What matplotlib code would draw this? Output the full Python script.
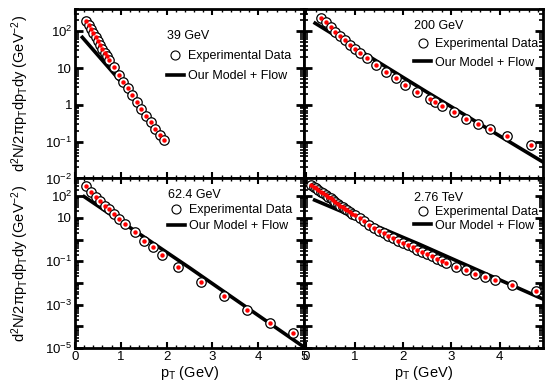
import matplotlib
matplotlib.use('Agg')
import matplotlib.pyplot as plt
import numpy as np
from matplotlib.lines import Line2D
from matplotlib.ticker import LogLocator, MultipleLocator, NullFormatter

plt.rcParams['font.family'] = ['Liberation Sans', 'DejaVu Sans']
plt.rcParams['mathtext.fontset'] = 'custom'
plt.rcParams['mathtext.rm'] = 'Liberation Sans'
plt.rcParams['mathtext.it'] = 'Liberation Sans'
plt.rcParams['mathtext.bf'] = 'Liberation Sans:bold'
plt.rcParams['mathtext.default'] = 'regular'
plt.rcParams['font.size'] = 9

# 39 GeV
pt_39 = [0.25, 0.30, 0.35, 0.40, 0.45, 0.50, 0.55, 0.60, 0.65, 0.70, 0.75,
         0.85, 0.95, 1.05, 1.15, 1.25, 1.35, 1.45, 1.55, 1.65, 1.75, 1.85, 1.95]
data_39 = [190, 148, 115, 89, 69, 54, 42, 33, 26, 21, 16.6,
           10.7, 6.6, 4.2, 2.9, 1.86, 1.2, 0.78, 0.50, 0.35, 0.22, 0.155, 0.112]
model_pt_39 = [0.16, 1.0, 1.97]
model_39 = [68, 4.3, 0.11]

# 200 GeV
pt_200 = [0.3, 0.4, 0.5, 0.6, 0.7, 0.8, 0.9, 1.0, 1.1, 1.25, 1.45, 1.65, 1.85,
          2.05, 2.3, 2.55, 2.67, 2.8, 3.05, 3.3, 3.55, 3.8, 4.15, 4.65]
data_200 = [235, 172, 126, 96, 74, 57, 43, 32, 26, 18.6, 12.3, 7.9, 5.3,
            3.5, 2.3, 1.45, 1.18, 0.95, 0.63, 0.42, 0.30, 0.215, 0.14, 0.079]
model_pt_200 = [0.18, 2.5, 4.9]
model_200 = [165, 2.2, 0.028]

# 62.4 GeV
pt_62 = [0.25, 0.35, 0.45, 0.55, 0.65, 0.75, 0.85, 0.95, 1.1, 1.3, 1.5, 1.7,
         1.9, 2.25, 2.75, 3.25, 3.75, 4.25, 4.75]
data_62 = [295, 155, 95, 59, 37, 24.5, 15.5, 9.3, 5.4, 2.2, 0.89, 0.44,
           0.20, 0.055, 0.011, 0.0024, 0.00054, 0.000138, 0.000048]
model_pt_62 = [0.2, 2.5, 5.0]
model_62 = [95, 0.05, 1.1e-5]

# 2.76 TeV
pt_276 = [0.10, 0.15, 0.20, 0.25, 0.30, 0.35, 0.40, 0.45, 0.50, 0.55, 0.60,
          0.65, 0.70, 0.75, 0.80, 0.85, 0.90, 0.95, 1.00, 1.1, 1.2, 1.3, 1.4,
          1.5, 1.6, 1.7, 1.8, 1.9, 2.0, 2.1, 2.2, 2.3, 2.4, 2.5, 2.6, 2.7,
          2.8, 2.9, 3.1, 3.3, 3.5, 3.7, 3.9, 4.25, 4.75]
data_276 = [331, 275, 229, 191, 162, 135, 112, 95, 79, 66, 54,
            45, 37, 31, 26, 22, 18.2, 15.5, 13.2, 9.5, 6.8, 4.7, 3.5,
            2.6, 1.95, 1.48, 1.15, 0.89, 0.71, 0.55, 0.43, 0.34, 0.27, 0.21, 0.17, 0.13,
            0.107, 0.087, 0.055, 0.038, 0.026, 0.018, 0.014, 0.0083, 0.0041]
model_pt_276 = [0.17, 2.35, 4.9]
model_276 = [66, 0.59, 0.0018]

labels = ['39 GeV', '200 GeV', '62.4 GeV', '2.76 TeV']

fig = plt.figure(figsize=(5.53, 3.83), dpi=100)
gs = fig.add_gridspec(2, 2, left=75/553, right=543/553, top=1-9/383, bottom=1-348/383,
                      wspace=0, hspace=0, width_ratios=[229, 239])
axs = [fig.add_subplot(gs[0, 0]), fig.add_subplot(gs[0, 1]),
       fig.add_subplot(gs[1, 0]), fig.add_subplot(gs[1, 1])]

panels = [(pt_39, data_39, model_pt_39, model_39),
          (pt_200, data_200, model_pt_200, model_200),
          (pt_62, data_62, model_pt_62, model_62),
          (pt_276, data_276, model_pt_276, model_276)]

# legend placement per panel: (x, y, labelspacing)
leg_pos = [(0.40, 0.875, 0.65), (0.46, 0.935, 0.5), (0.405, 0.94, 0.3), (0.46, 0.92, 0.15)]

handles = [Line2D([], [], marker='o', ls='none', mfc='none', mec='k', ms=6.5, mew=0.8),
           Line2D([], [], color='k', lw=2.6)]

for i, ax in enumerate(axs):
    x, y, mx, my = panels[i]
    ax.set_yscale('log')
    ax.plot(x, y, 'o', mfc='white', mec='k', ms=6.8, mew=0.9, zorder=3)
    ax.plot(x, y, 'o', color='red', ms=3.2, mew=0, zorder=4)
    ax.plot(mx, my, '-', color='k', lw=2.6, zorder=2)

    if i < 2:
        ax.set_ylim(0.01, 400)
        ax.set_yticks([1e2, 10, 1, 0.1, 0.01],
                      ['$10^{2}$', '10', '1', '$10^{-1}$', '$10^{-2}$'])
    else:
        ax.set_ylim(1e-5, 650)
        ax.set_yticks([1e2, 10, 1, 0.1, 1e-2, 1e-3, 1e-4, 1e-5],
                      ['$10^{2}$', '10', '', '$10^{-1}$', '', '$10^{-3}$', '', '$10^{-5}$'])
    ax.yaxis.set_minor_locator(LogLocator(base=10, subs=np.arange(2, 10), numticks=100))
    ax.yaxis.set_minor_formatter(NullFormatter())

    if i % 2 == 0:
        ax.set_xlim(0, 5)
        ax.set_xticks([0, 1, 2, 3, 4, 5])
    else:
        ax.set_xlim(-0.05, 4.9)
        ax.set_xticks([0, 1, 2, 3, 4])
    ax.xaxis.set_minor_locator(MultipleLocator(0.2))

    ax.tick_params(which='both', direction='in', top=True, right=True, labelsize=9.5, pad=2)
    ax.tick_params(axis='y', which='major', length=6, width=2)
    ax.tick_params(axis='y', which='minor', length=3, width=1.2)
    ax.tick_params(axis='x', which='major', length=4, width=1.5)
    ax.tick_params(axis='x', which='minor', length=2.5, width=1)
    for s in ax.spines.values():
        s.set_linewidth(2)

    if i % 2 == 1:
        ax.tick_params(labelleft=False)
    else:
        ax.set_ylabel(r'd$^{2}$N/2$\pi$p$_{T}$dp$_{T}$dy (GeV$^{-2}$)', fontsize=10.5)
        ax.yaxis.set_label_coords(-0.19, 0.5)
    if i < 2:
        ax.tick_params(labelbottom=False)
    else:
        ax.set_xlabel(r'p$_{T}$ (GeV)', fontsize=10.5, labelpad=1)

    lx, ly, ls = leg_pos[i]
    ax.legend(handles, ['Experimental Data', 'Our Model + Flow'], title=labels[i],
              loc='upper left', bbox_to_anchor=(lx, ly), frameon=False, alignment='left',
              handlelength=1.4, handletextpad=0.3, borderpad=0, borderaxespad=0,
              labelspacing=ls, fontsize=9, title_fontsize=9)

fig.savefig('out.png', dpi=100)
